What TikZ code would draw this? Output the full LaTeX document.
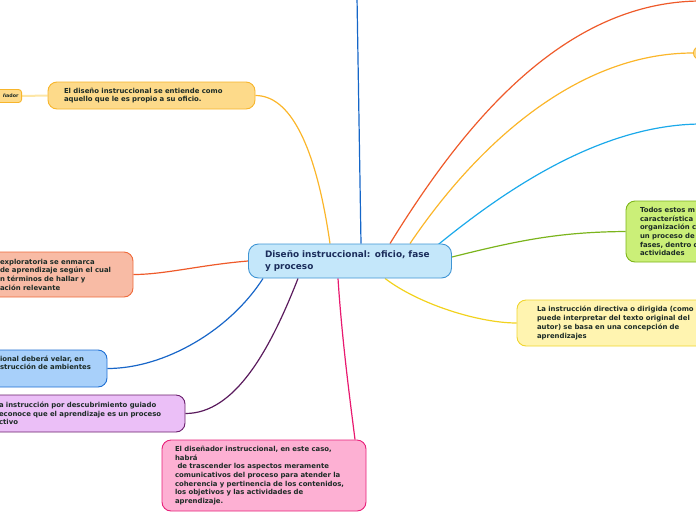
\documentclass[tikz,border=0pt]{standalone}
\usepackage{fontspec}
\setmainfont{DejaVu Sans}
\usetikzlibrary{backgrounds}
\definecolor{txt}{HTML}{1C2B26}
\definecolor{ctxt}{HTML}{1B2D5B}
\definecolor{cfill}{HTML}{C4E7FA}
\definecolor{cdraw}{HTML}{3F95D4}
\definecolor{ofill}{HTML}{FDDA8A}
\definecolor{odraw}{HTML}{F7B52B}
\definecolor{sfill}{HTML}{F8BBA5}
\definecolor{sdraw}{HTML}{EF6A3B}
\definecolor{bfill}{HTML}{A8D0FA}
\definecolor{bdraw}{HTML}{1E6FD3}
\definecolor{pfill}{HTML}{EBBFF7}
\definecolor{pdraw}{HTML}{6A1F6C}
\definecolor{kfill}{HTML}{FDB0D3}
\definecolor{kdraw}{HTML}{E8207A}
\definecolor{yfill}{HTML}{FFF4B0}
\definecolor{ydraw}{HTML}{F0D52E}
\definecolor{gfill}{HTML}{CBEF78}
\definecolor{gdraw}{HTML}{7DB51A}
\definecolor{lOY}{HTML}{FBB62A}
\definecolor{lOR}{HTML}{EE5A2A}
\definecolor{lSB}{HTML}{1BA9EA}
\definecolor{lVB}{HTML}{1566C8}
\definecolor{lGR}{HTML}{7BB41C}
\definecolor{lYE}{HTML}{F2D21E}
\definecolor{lPK}{HTML}{E8196F}
\definecolor{lPU}{HTML}{5A1B5D}
\definecolor{lBL}{HTML}{1866C8}
\definecolor{lLY}{HTML}{FDE6A6}
\begin{document}
\begin{tikzpicture}[x=1pt,y=-1pt,
  mmnode/.style={rounded corners=9pt, draw, line width=0.9pt, text=txt,
    font=\fontsize{6.9}{8.7}\selectfont\bfseries, align=left, inner xsep=0pt, inner ysep=0pt},
  central/.style={mmnode, rounded corners=10pt, fill=cfill, draw=cdraw, text=ctxt,
    font=\fontsize{8.9}{12}\selectfont\bfseries},
  conn/.style={line width=1.2pt},
]
\useasboundingbox (0,0) rectangle (696,520);
\clip (0,0) rectangle (696,520);

\node[central, minimum width=203pt, minimum height=34pt, text width=170pt] (c) at (350,261)
  {Diseño instruccional: oficio, fase\\y proceso};

\node[mmnode, fill=ofill, draw=odraw, minimum width=207pt, minimum height=27pt, text width=175pt] (n1) at (151.5,95.5)
  {El diseño instruccional se entiende como\\aquello que le es propio a su oficio.};

\node[mmnode, fill=ofill, draw=odraw, rounded corners=3pt, minimum height=13pt, inner xsep=3pt,
  font=\fontsize{4.8}{6}\selectfont\bfseries, anchor=east] (nL) at (22,96)
  {\hspace*{20pt}ñador};

\node[mmnode, fill=ofill, draw=odraw, rounded corners=6.5pt, minimum width=30pt, minimum height=13pt, anchor=west] (tr) at (693,53) {};

\node[mmnode, fill=sfill, draw=sdraw, minimum width=148pt, minimum height=45pt, text width=118pt] (nS) at (59,274.5)
  {exploratoria se enmarca\\de aprendizaje según el cual\\n términos de hallar y\\ación relevante};

\node[mmnode, fill=bfill, draw=bdraw, minimum width=119pt, minimum height=37pt, text width=95pt] (nB) at (47.5,368.5)
  {ional deberá velar, en\\strucción de ambientes\\\strut};

\node[mmnode, fill=pfill, draw=pdraw, minimum width=202pt, minimum height=37pt, text width=170pt] (nP) at (84,413.5)
  {a instrucción por descubrimiento guiado\\econoce que el aprendizaje es un proceso\\ctivo};

\node[mmnode, fill=kfill, draw=kdraw, minimum width=204pt, minimum height=71pt, text width=178pt] (nK) at (264,475.5)
  {El diseñador instruccional, en este caso,\\habrá\\\hspace*{2.5pt}de trascender los aspectos meramente\\comunicativos del proceso para atender la\\coherencia y pertinencia de los contenidos,\\los objetivos y las actividades de\\aprendizaje.};

\node[mmnode, fill=yfill, draw=ydraw, minimum width=215pt, minimum height=46pt, text width=175pt] (nY) at (624.5,323)
  {La instrucción directiva o dirigida (como\\puede interpretar del texto original del\\autor) se basa en una concepción de\\aprendizajes};

\node[mmnode, fill=gfill, draw=gdraw, minimum width=128pt, minimum height=61pt, text width=100pt] (nG) at (690,231.5)
  {Todos estos m\\característica \\organización c\\un proceso de\\fases, dentro d\\actividades};

\coordinate (e1) at (700,1);
\coordinate (e2) at (700,124);
\coordinate (e3) at (357,-3);

\begin{scope}[on background layer]
  \draw[conn, lLY, line width=2pt] (nL.east) -- (n1.west);
  \draw[conn, lOY] ([xshift=-20pt]c.north) .. controls (318,160) and (295,95.5) .. (n1.east);
  \draw[conn, lOR] ([xshift=40pt]c.north) .. controls (460,130) and (560,2) .. (e1);
  \draw[conn, lOY] ([xshift=60pt]c.north) .. controls (480,140) and (580,53) .. (tr.west);
  \draw[conn, lSB] ([xshift=87pt,yshift=-2pt]c.north) .. controls (505,190) and (600,125) .. (e2);
  \draw[conn, lVB] ([xshift=11pt]c.north) -- (e3);
  \draw[conn, lGR] ([yshift=4pt]c.east) .. controls (520,240) and (560,232) .. (nG.west);
  \draw[conn, lYE] ([xshift=35pt]c.south) .. controls (420,305) and (480,323) .. (nY.west);
  \draw[conn, lPK] ([xshift=-12pt]c.south) .. controls (342,340) and (350,400) .. ([xshift=91pt]nK.north);
  \draw[conn, lPU] ([xshift=-52pt]c.south) .. controls (270,350) and (235,413.5) .. (nP.east);
  \draw[conn, lBL] ([xshift=-87pt]c.south) .. controls (230,330) and (165,368.5) .. (nB.east);
  \draw[conn, lOR] (c.west) .. controls (200,265) and (165,274.5) .. (nS.east);
\end{scope}
\end{tikzpicture}
\end{document}
